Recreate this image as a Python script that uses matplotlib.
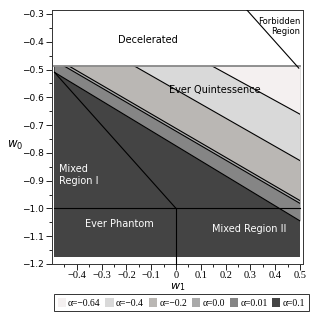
import numpy as np
import matplotlib
matplotlib.use("Agg")
import matplotlib.pyplot as plt
from matplotlib.patches import Patch, Rectangle

#------------------------------------------------------------------------------------
# Data
box_w1 = (-0.49, 0.5)          # extent of shaded region in w1
box_w0 = (-1.175, -0.487)      # extent of shaded region in w0

alphas = ("\u03b1=\u22120.64", "\u03b1=\u22120.4", "\u03b1=\u22120.2", "\u03b1=0.0", "\u03b1=0.01", "\u03b1=0.1")
colors = ("#f4f0f0", "#d9d9d9", "#bab7b4", "#a9a9a9", "#858585", "#444444")

# band boundaries: w0 at w1=-0.49 and at w1=0.5 (the darkest fills the box)
edge_w1 = [-0.49, 0.5]
bound_w0 = [
    [-0.176, -0.661],   # alpha=-0.64
    [-0.323, -0.828],   # alpha=-0.4
    [-0.457, -0.972],   # alpha=-0.2
    [-0.467, -0.982],   # alpha=0.0
    [-0.510, -1.045],   # alpha=0.01
]

phantom_w1 = [-0.49, 0.0]      # w0 + w1 = -1
phantom_w0 = [-0.51, -1.0]
forbid_w1 = [0.286, 0.495]     # w0 + w1 = 0
forbid_w0 = [-0.286, -0.495]

xticks = [-0.4, -0.3, -0.2, -0.1, 0, 0.1, 0.2, 0.3, 0.4, 0.5]
xticklabels = ["\u22120.4", "\u22120.3", "\u22120.2", "\u22120.1", "0", "0.1", "0.2", "0.3", "0.4", "0.5"]
yticks = [-1.2, -1.1, -1.0, -0.9, -0.8, -0.7, -0.6, -0.5, -0.4, -0.3]
yticklabels = ["\u22121.2", "\u22121.1", "\u22121.0", "\u22120.9", "\u22120.8", "\u22120.7", "\u22120.6", "\u22120.5", "\u22120.4", "\u22120.3"]

#------------------------------------------------------------------------------------
# Start plotting
fig = plt.figure(figsize=(3.15, 3.15), dpi=100)
ax = fig.add_axes([0.165, 0.162, 0.797, 0.806])
ax.set_xlim(-0.5, 0.512)
ax.set_ylim(-1.2, -0.286)

clip = Rectangle((box_w1[0], box_w0[0]), box_w1[1] - box_w1[0], box_w0[1] - box_w0[0],
                 transform=ax.transData, facecolor='none', edgecolor='none')

# darkest first: the whole box
ax.add_patch(Rectangle((box_w1[0], box_w0[0]), box_w1[1] - box_w1[0], box_w0[1] - box_w0[0],
                       facecolor=colors[5], edgecolor='none', zorder=1))
for i in range(4, -1, -1):
    f = ax.fill_between(edge_w1, bound_w0[i], box_w0[1], color=colors[i], linewidth=0, zorder=2)
    f.set_clip_path(clip)
    ln, = ax.plot(edge_w1, bound_w0[i], color='black', lw=0.8, zorder=3)
    ln.set_clip_path(clip)

# top edge of shaded region
ax.plot(box_w1, [box_w0[1], box_w0[1]], color='#888888', lw=1.3, zorder=3)
# w0 = -1 and w1 = 0
ax.plot(box_w1, [-1.0, -1.0], color='black', lw=0.8, zorder=3)
ax.plot([0, 0], [-1.0, -1.2], color='black', lw=0.8, zorder=3, clip_on=False)
ax.plot(phantom_w1, phantom_w0, color='black', lw=0.8, zorder=3)
ax.plot(forbid_w1, forbid_w0, color='black', lw=0.8, zorder=3)

# region labels
tk = dict(family='DejaVu Sans', fontsize=7, zorder=5)
ax.text(-0.115, -0.395, "Decelerated", color='black', ha='center', va='center', **tk)
ax.text(0.5, -0.345, "Forbidden\nRegion", color='black', ha='right', va='center',
        linespacing=1.1, **dict(tk, fontsize=6))
ax.text(0.155, -0.575, "Ever Quintessence", color='black', ha='center', va='center', **tk)
ax.text(-0.47, -0.88, "Mixed\nRegion I", color='white', ha='left', va='center', linespacing=1.2, **tk)
ax.text(-0.23, -1.055, "Ever Phantom", color='white', ha='center', va='center', **tk)
ax.text(0.295, -1.075, "Mixed Region II", color='white', ha='center', va='center', **tk)

# axes
ax.set_xticks(xticks)
ax.set_xticklabels(xticklabels, family='Liberation Serif', fontsize=7.5)
ax.set_yticks(yticks)
ax.set_yticklabels(yticklabels, family='DejaVu Sans', fontsize=6.5)
ax.set_xticks(np.arange(-0.45, 0.51, 0.1), minor=True)
ax.set_yticks(np.arange(-1.15, -0.3, 0.1), minor=True)
ax.tick_params(which='major', direction='out', length=4, width=0.6, pad=2)
ax.tick_params(axis='x', which='major', pad=1)
ax.tick_params(which='minor', direction='out', length=2.5, width=0.6)
for s in ax.spines.values():
    s.set_linewidth(0.7)
    s.set_color('#333333')

ax.set_xlabel(r"$w_1$", fontsize=8, labelpad=0)
ax.xaxis.set_label_coords(0.5, -0.066)
ax.set_ylabel(r"$w_0$", fontsize=8.5, rotation=0, labelpad=0)
ax.yaxis.set_label_coords(-0.145, 0.44)

handles = [Patch(facecolor=c, edgecolor='none') for c in colors]
leg = fig.legend(handles, alphas, loc='upper left', bbox_to_anchor=(0.172, 0.066), ncol=6,
                 prop={'family': 'Liberation Serif', 'size': 6.9}, frameon=True, fancybox=False,
                 handlelength=0.85, handleheight=1.2, handletextpad=0.25, columnspacing=0.5,
                 borderpad=0.35, borderaxespad=0)
leg.get_frame().set_edgecolor('black')
leg.get_frame().set_linewidth(0.7)

plt.savefig("out.png", format='png', dpi=100)
